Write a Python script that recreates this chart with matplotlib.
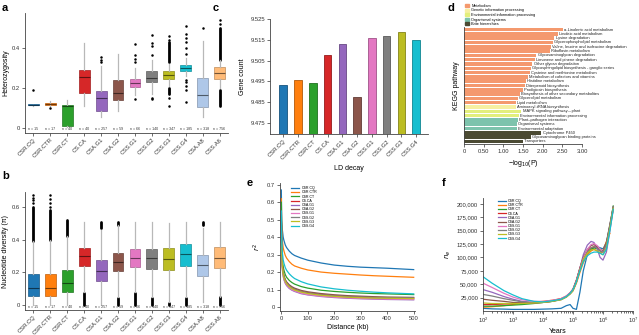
import matplotlib
matplotlib.use("Agg")
import matplotlib.pyplot as plt
import matplotlib.colors as mcolors
import numpy as np

plt.rcParams['font.family'] = ['Liberation Sans', 'DejaVu Sans']
plt.rcParams['axes.linewidth'] = 0.6
plt.rcParams['xtick.major.width'] = 0.5
plt.rcParams['ytick.major.width'] = 0.5
plt.rcParams['xtick.major.size'] = 2
plt.rcParams['ytick.major.size'] = 2
plt.rcParams['xtick.major.pad'] = 1.5
plt.rcParams['ytick.major.pad'] = 1.5

W, H = 639, 335

# ---------------- data ----------------
groups = ['CSR.CQ', 'CSR.CTR', 'CSR.CT', 'CS.CA', 'CSA.G1', 'CSA.G2',
          'CSS.G1', 'CSS.G2', 'CSS.G3', 'CSS.G4', 'CSA.A8', 'CSS.A6']
group_n = [15, 17, 40, 40, 257, 59, 66, 140, 347, 185, 318, 756]
group_colors = ['#1f77b4', '#ff7f0e', '#2ca02c', '#d62728', '#9467bd', '#8c564b',
                '#e377c2', '#7f7f7f', '#bcbd22', '#17becf', '#aec7e8', '#ffbb78']

# heterozygosity: whislo, q1, median, q3, whishi
het_stats = [
    (0.110, 0.114, 0.117, 0.119, 0.122),
    (0.112, 0.116, 0.121, 0.127, 0.135),
    (0.005, 0.008, 0.108, 0.113, 0.140),
    (0.108, 0.175, 0.255, 0.292, 0.425),
    (0.055, 0.087, 0.150, 0.183, 0.310),
    (0.083, 0.142, 0.175, 0.238, 0.370),
    (0.165, 0.205, 0.225, 0.245, 0.300),
    (0.170, 0.232, 0.250, 0.283, 0.340),
    (0.210, 0.247, 0.263, 0.283, 0.320),
    (0.260, 0.283, 0.300, 0.315, 0.350),
    (0.055, 0.105, 0.163, 0.250, 0.435),
    (0.200, 0.245, 0.275, 0.305, 0.340),
]
het_fliers = [
    [0.19], [0.10], [], [],
    [0.355, 0.34, 0.33], [],
    [0.42, 0.365, 0.345, 0.33, 0.145],
    [0.465, 0.425, 0.41, 0.365, 0.15, 0.145],
    [0.46, 0.44, 0.11, 0.15],
    [0.51, 0.47, 0.45, 0.43, 0.40, 0.37, 0.24, 0.23, 0.21, 0.19, 0.13],
    [0.50],
    [0.54, 0.52],
]
# runs of overlapping outliers (low, high)
het_bands = [[], [], [], [], [], [], [], [],
             [(0.33, 0.43), (0.17, 0.20)], [], [],
             [(0.34, 0.50), (0.11, 0.19)]]

pi_stats = [
    (0.000, 0.055, 0.107, 0.190, 0.390),
    (0.000, 0.055, 0.107, 0.190, 0.400),
    (0.000, 0.079, 0.137, 0.216, 0.420),
    (0.080, 0.236, 0.300, 0.347, 0.510),
    (0.000, 0.145, 0.206, 0.273, 0.460),
    (0.050, 0.210, 0.263, 0.317, 0.490),
    (0.080, 0.232, 0.290, 0.340, 0.510),
    (0.050, 0.222, 0.285, 0.340, 0.510),
    (0.020, 0.214, 0.283, 0.347, 0.500),
    (0.050, 0.238, 0.313, 0.372, 0.510),
    (0.020, 0.176, 0.242, 0.303, 0.470),
    (0.050, 0.226, 0.290, 0.353, 0.510),
]
pi_fliers = [
    [0.62, 0.64, 0.655, 0.67], [0.60, 0.625, 0.65, 0.67],
    [], [], [], [], [], [], [], [], [], [],
]
pi_bands = [
    [(0.39, 0.60)], [(0.40, 0.58)], [(0.42, 0.52)], [(0.0, 0.075)],
    [(0.47, 0.51)], [(0.0, 0.045), (0.49, 0.51)], [(0.0, 0.075)],
    [(0.0, 0.045)], [(0.0, 0.012)], [(0.0, 0.045)], [(0.49, 0.51)],
    [(0.0, 0.05)],
]

gene_counts = [9.4934, 9.4955, 9.4943, 9.5076, 9.5129, 9.4873,
               9.5157, 9.5167, 9.5188, 9.5148]

kegg_terms = [
    'α-Linolenic acid metabolism', 'Linoleic acid metabolism', 'Lysine degradation',
    'Glycerophospholipid metabolism', 'Valine, leucine and isoleucine degradation',
    'Riboflavin metabolism', 'Glycosaminoglycan degradation',
    'Limonene and pinene degradation', 'Other glycan degradation',
    'Glycosphingolipid biosynthesis - ganglio series', 'Cysteine and methionine metabolism',
    'Metabolism of cofactors and vitamins', 'Histidine metabolism',
    'Diterpenoid biosynthesis', 'Prodigiosin biosynthesis',
    'Biosynthesis of other secondary metabolites', 'Glycerolipid metabolism',
    'Lipid metabolism', 'Aminoacyl-tRNA biosynthesis', 'MAPK signaling pathway—plant',
    'Environmental information processing', 'Plant–pathogen interaction',
    'Organismal systems', 'Environmental adaptation', 'Cytochrome P450',
    'Glycosaminoglycan binding proteins', 'Transporters',
]
kegg_logp = [2.52, 2.39, 2.30, 2.26, 2.22, 2.18, 1.84, 1.80, 1.74, 1.70, 1.67,
             1.63, 1.58, 1.54, 1.50, 1.42, 1.37, 1.33, 1.33, 1.46, 1.40, 1.37,
             1.35, 1.35, 1.97, 1.71, 1.50]
kegg_class = [0] * 18 + [1, 2, 2, 3, 3, 3, 4, 4, 4]
class_names = ['Metabolism', 'Genetic information processing',
               'Environmental information processing', 'Organismal systems',
               'Brite hierarchies']
class_colors = ['#f4996e', '#f6f0a2', '#e3ef7c', '#7dc3ac', '#4b4a33']

ld_groups = groups[:10]
ld_dist = [0, 1, 2, 4, 7, 10, 15, 20, 30, 40, 50, 75, 100, 150, 200, 250, 300, 350, 400, 450, 500]
ld_r2 = {
    'CSR.CQ':  [0.67, 0.55, 0.49, 0.44, 0.40, 0.38, 0.355, 0.34, 0.32, 0.305, 0.295, 0.28, 0.268, 0.252, 0.24, 0.233, 0.228, 0.225, 0.222, 0.218, 0.214],
    'CSR.CTR': [0.62, 0.50, 0.44, 0.38, 0.34, 0.32, 0.295, 0.28, 0.26, 0.245, 0.235, 0.222, 0.212, 0.20, 0.193, 0.188, 0.183, 0.179, 0.176, 0.173, 0.170],
    'CSR.CT':  [0.60, 0.42, 0.33, 0.27, 0.23, 0.21, 0.185, 0.17, 0.152, 0.14, 0.131, 0.117, 0.108, 0.096, 0.089, 0.084, 0.080, 0.077, 0.075, 0.073, 0.071],
    'CS.CA':   [0.53, 0.37, 0.30, 0.24, 0.195, 0.175, 0.152, 0.139, 0.122, 0.111, 0.103, 0.090, 0.082, 0.072, 0.065, 0.060, 0.057, 0.054, 0.052, 0.051, 0.050],
    'CSA.G1':  [0.50, 0.34, 0.27, 0.21, 0.175, 0.155, 0.135, 0.122, 0.106, 0.096, 0.089, 0.076, 0.069, 0.060, 0.054, 0.050, 0.047, 0.045, 0.043, 0.042, 0.041],
    'CSA.G2':  [0.52, 0.37, 0.30, 0.24, 0.20, 0.18, 0.157, 0.144, 0.127, 0.116, 0.108, 0.095, 0.087, 0.077, 0.070, 0.065, 0.062, 0.059, 0.057, 0.056, 0.055],
    'CSS.G1':  [0.50, 0.35, 0.28, 0.22, 0.18, 0.16, 0.14, 0.127, 0.110, 0.099, 0.092, 0.079, 0.071, 0.062, 0.056, 0.052, 0.049, 0.047, 0.045, 0.044, 0.043],
    'CSS.G2':  [0.52, 0.36, 0.29, 0.23, 0.19, 0.172, 0.15, 0.137, 0.120, 0.109, 0.101, 0.088, 0.080, 0.070, 0.064, 0.059, 0.056, 0.054, 0.053, 0.052, 0.052],
    'CSS.G3':  [0.51, 0.36, 0.29, 0.23, 0.188, 0.168, 0.146, 0.133, 0.116, 0.105, 0.097, 0.085, 0.077, 0.067, 0.061, 0.056, 0.053, 0.051, 0.050, 0.049, 0.048],
    'CSS.G4':  [0.55, 0.42, 0.36, 0.31, 0.27, 0.25, 0.225, 0.21, 0.19, 0.175, 0.163, 0.145, 0.132, 0.115, 0.104, 0.096, 0.090, 0.085, 0.081, 0.078, 0.075],
}

psmc_years = [1e2, 2e2, 5e2, 1e3, 2e3, 5e3, 1e4, 2e4, 4e4, 6e4, 8e4, 1e5,
              1.3e5, 1.7e5, 2.2e5, 3e5, 4e5, 5e5, 6.5e5, 8e5, 1e6, 1.3e6, 1.7e6, 2.2e6]
# effective population size in thousands
psmc_ne_k = {
    'CSR.CQ':  [5, 4, 3.5, 3, 3, 3, 3.5, 4, 5, 10, 12, 5, 3, 35, 75, 105, 114, 118, 120, 118, 116, 128, 160, 193],
    'CSR.CTR': [7, 8, 10, 12, 14, 16, 18, 20, 23, 27, 32, 38, 52, 72, 90, 105, 112, 115, 112, 108, 112, 130, 145, np.nan],
    'CSR.CT':  [9, 9, 10, 11, 12, 14, 16, 18, 22, 27, 33, 40, 56, 78, 98, 110, 116, 118, 116, 112, 110, 122, 158, 196],
    'CS.CA':   [12, 12, 13, 14, 15, 16, 17, 19, 23, 28, 34, 41, 58, 80, 100, 112, 118, 120, 118, 114, 112, 125, 158, 190],
    'CSA.G1':  [40, 35, 27, 22, 18, 16, 17, 19, 22, 27, 33, 39, 55, 80, 105, 123, 130, 128, 115, 100, 95, 110, 150, 190],
    'CSA.G2':  [22, 20, 18, 16, 15, 15, 16, 18, 22, 27, 33, 40, 57, 80, 100, 115, 122, 124, 120, 115, 112, 128, 162, 195],
    'CSS.G1':  [52, 44, 33, 26, 21, 18, 18, 20, 23, 28, 34, 40, 56, 78, 98, 115, 124, 126, 122, 115, 110, 120, 155, 192],
    'CSS.G2':  [31, 28, 23, 20, 17, 15.5, 16, 18, 21, 26, 32, 38, 54, 76, 96, 110, 118, 120, 117, 112, 110, 125, 160, 195],
    'CSS.G3':  [15, 14, 14, 14, 14, 15, 16, 18, 21, 26, 32, 38, 54, 76, 96, 108, 114, 115, 112, 108, 105, 118, 155, 192],
    'CSS.G4':  [64, 52, 38, 30, 23, 18, 17, 19, 22, 27, 33, 40, 55, 75, 92, 103, 108, 110, 110, 108, 105, 115, 150, 190],
}


def rect(l, t, r, b):
    return [l / W, 1 - b / H, (r - l) / W, (b - t) / H]


def darker(c, f=0.6):
    rgb = np.array(mcolors.to_rgb(c))
    return tuple(rgb * f)


def style(ax):
    for s in ['top', 'right']:
        ax.spines[s].set_visible(False)
    for s in ['left', 'bottom']:
        ax.spines[s].set_color('#444444')
    ax.tick_params(labelsize=4.2, colors='#333333')


def boxpanel(ax, stats, fliers, bands, ylabel, ylim, yticks, yfmt):
    data = []
    for (lo, q1, med, q3, hi), fl in zip(stats, fliers):
        data.append(dict(whislo=lo, q1=q1, med=med, q3=q3, whishi=hi, fliers=fl))
    pos = np.arange(len(groups))
    bp = ax.bxp(data, positions=pos, widths=0.64, patch_artist=True, showcaps=False,
                whiskerprops=dict(color='#b8b8b8', lw=0.9),
                flierprops=dict(marker='o', markersize=1.8, markerfacecolor='k',
                                markeredgecolor='none'))
    for box, med, c in zip(bp['boxes'], bp['medians'], group_colors):
        box.set_facecolor(c)
        box.set_edgecolor(darker(c, 0.75))
        box.set_linewidth(0.5)
        med.set_color(darker(c, 0.45))
        med.set_linewidth(0.8)
    for p, bl in zip(pos, bands):
        for lo, hi in bl:
            lc = ax.vlines(p, lo, hi, color='k', lw=2.0, zorder=1)
            lc.set_capstyle('round')
    for p, n in zip(pos, group_n):
        ax.text(p, ylim[0] + 0.008, f'n = {n}', fontsize=2.6, ha='center', va='bottom',
                color='#333333')
    ax.set_xlim(-0.5, len(groups) - 0.5)
    ax.set_ylim(*ylim)
    ax.set_yticks(yticks)
    ax.set_yticklabels([yfmt(v) for v in yticks])
    ax.set_xticks(pos)
    ax.set_xticklabels(groups, rotation=45, ha='right', rotation_mode='anchor', fontsize=3.5)
    ax.tick_params(axis='x', pad=1.0)
    ax.set_ylabel(ylabel, fontsize=5, labelpad=2)
    style(ax)


fig = plt.figure(figsize=(W / 100, H / 100), dpi=100)

# a: heterozygosity
ax_a = fig.add_axes(rect(25, 13, 228, 133))
boxpanel(ax_a, het_stats, het_fliers, het_bands, 'Heterozygosity', (-0.025, 0.575),
         [0, 0.2, 0.4], lambda v: '0' if v == 0 else f'{v:.1f}')

# b: nucleotide diversity
ax_b = fig.add_axes(rect(25, 192, 228, 310))
boxpanel(ax_b, pi_stats, pi_fliers, pi_bands, 'Nucleotide diversity (π)', (-0.03, 0.69),
         [0, 0.2, 0.4, 0.6], lambda v: '0' if v == 0 else f'{v:.1f}')

# c: gene count bars
ax_c = fig.add_axes(rect(270, 19, 428, 134))
xc = np.arange(len(ld_groups))
ax_c.bar(xc, gene_counts, width=0.52, color=group_colors[:10],
         edgecolor=[darker(c, 0.7) for c in group_colors[:10]], linewidth=0.6)
ax_c.set_ylim(9.4697, 9.525)
ax_c.set_xlim(-0.9, 9.8)
ax_c.set_yticks([9.475, 9.485, 9.495, 9.505, 9.515, 9.525])
ax_c.set_yticklabels(['9.475', '9.485', '9.495', '9.505', '9.515', '9.525'])
ax_c.set_xticks(xc)
ax_c.set_xticklabels(ld_groups, rotation=45, ha='right', rotation_mode='anchor', fontsize=3.8)
ax_c.set_ylabel('Gene count', fontsize=5, labelpad=3)
ax_c.set_xlabel('LD decay', fontsize=5, labelpad=3)
style(ax_c)

# d: KEGG enrichment
ax_d = fig.add_axes(rect(464, 27, 582, 144))
yd = np.arange(len(kegg_terms))
ax_d.barh(yd, kegg_logp, height=0.82, color=[class_colors[k] for k in kegg_class])
for y, v, t in zip(yd, kegg_logp, kegg_terms):
    ax_d.text(v + 0.03, y, t, fontsize=2.9, va='center', ha='left', color='#222222',
              clip_on=False)
ax_d.set_ylim(len(kegg_terms) - 0.4, -0.6)
ax_d.set_xlim(0, 3.0)
ax_d.set_xticks([0, 0.5, 1.0, 1.5, 2.0, 2.5, 3.0])
ax_d.set_xticklabels(['0', '0.50', '1.00', '1.50', '2.00', '2.50', '3.00'])
ax_d.set_yticks([])
ax_d.set_ylabel('KEGG pathway', fontsize=5, labelpad=3)
ax_d.set_xlabel('−log$_{10}$(P)', fontsize=5, labelpad=3)
style(ax_d)
handles = [plt.Rectangle((0, 0), 1, 1, color=c) for c in class_colors]
ax_d.legend(handles, class_names, loc='lower left', bbox_to_anchor=(0.0, 1.0),
            fontsize=2.8, frameon=False, handlelength=1.2, handleheight=0.9,
            labelspacing=0.15, handletextpad=0.5, borderpad=0, borderaxespad=0.2)

# e: LD decay
ax_e = fig.add_axes(rect(280, 183, 415, 311))
for g, c in zip(ld_groups, group_colors):
    ax_e.plot(ld_dist, ld_r2[g], color=c, lw=0.9, label=g)
ax_e.set_xlim(-5, 505)
ax_e.set_ylim(-0.023, 0.71)
ax_e.set_xticks([0, 100, 200, 300, 400, 500])
ax_e.set_yticks([0, 0.1, 0.2, 0.3, 0.4, 0.5, 0.6, 0.7])
ax_e.set_yticklabels(['0', '0.1', '0.2', '0.3', '0.4', '0.5', '0.6', '0.7'])
ax_e.set_xlabel('Distance (kb)', fontsize=5, labelpad=2)
ax_e.set_ylabel('$r^2$', fontsize=5, labelpad=3)
ax_e.legend(loc='upper left', bbox_to_anchor=(0.06, 1.0), fontsize=2.6, frameon=False,
            handlelength=2.2, labelspacing=0.05, handletextpad=0.6)
style(ax_e)

# f: PSMC effective population size
ax_f = fig.add_axes(rect(483, 198, 633, 311))
for g, c in zip(ld_groups, group_colors):
    ax_f.plot(psmc_years, np.array(psmc_ne_k[g]) * 1000, color=c, lw=0.9, label=g)
ax_f.set_xscale('log')
ax_f.set_xlim(1e2, 1e7)
ax_f.set_ylim(0, 211000)
yt = [25000, 50000, 75000, 100000, 125000, 150000, 175000, 200000]
ax_f.set_yticks(yt)
ax_f.set_yticklabels([f'{v:,}' for v in yt])
ax_f.tick_params(which='minor', length=1.2, width=0.4)
ax_f.set_xlabel('Years', fontsize=5, labelpad=2)
ax_f.set_ylabel('$n_e$', fontsize=5, labelpad=3)
ax_f.legend(loc='upper left', bbox_to_anchor=(0.08, 1.02), fontsize=2.6, frameon=False,
            handlelength=2.2, labelspacing=0.05, handletextpad=0.6)
style(ax_f)

# panel letters
for lab, x, y in [('a', 2, 8), ('b', 2, 176), ('c', 213, 8), ('d', 447, 8),
                  ('e', 247, 183), ('f', 442, 183)]:
    fig.text(x / W, 1 - y / H, lab, fontsize=8, fontweight='bold', va='center', ha='left')

fig.savefig('out.png', dpi=100)
